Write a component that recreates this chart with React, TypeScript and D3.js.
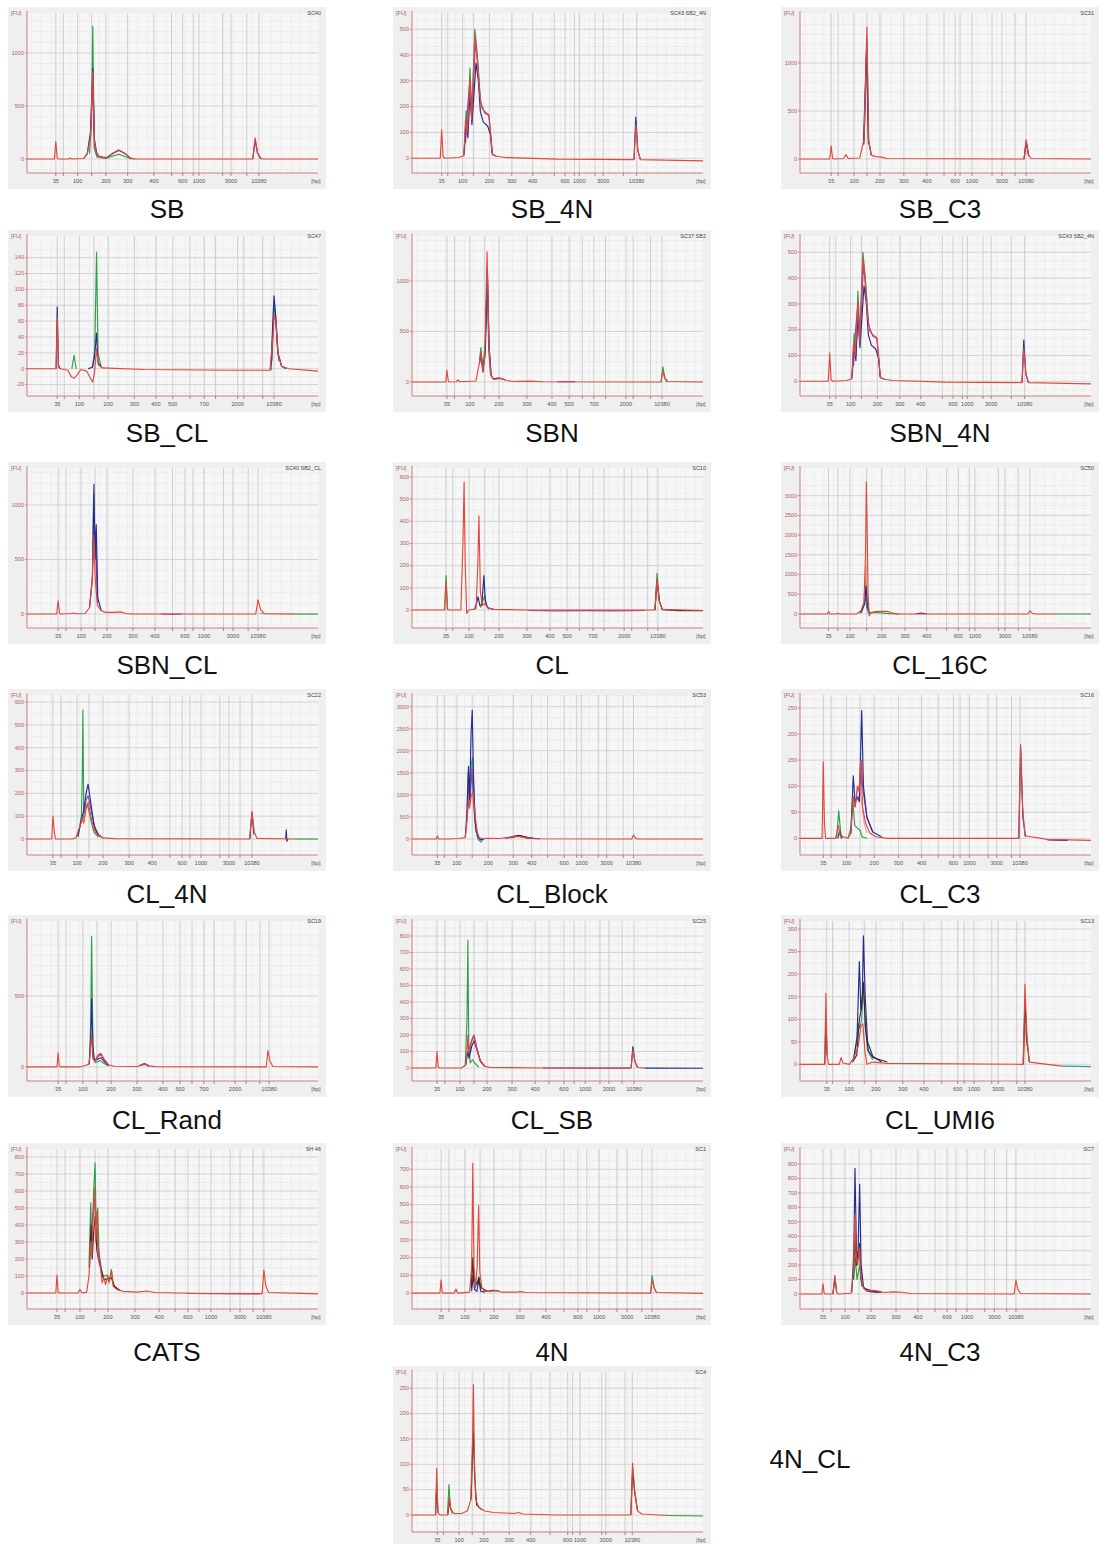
import React from "react";
import * as d3 from "d3";

// ---------- ladder tick labels ----------
const LADDER_A = ["35", "100", "200", "300", "400", "600", "1000", "3000", "10380"];
const LADDER_B = ["35", "100", "200", "300", "400", "500", "700", "2000", "10380"];

// ---------- panel labels & ids ----------
const LABELS = ["SB", "SB_4N", "SB_C3", "SB_CL", "SBN", "SBN_4N", "SBN_CL", "CL", "CL_16C", "CL_4N", "CL_Block", "CL_C3", "CL_Rand", "CL_SB", "CL_UMI6", "CATS", "4N", "4N_C3", "4N_CL"];
const IDS = ["SC40", "SC43 SB2_4N", "SC31", "SC47", "SC37 SB2", "SC43 SB2_4N", "SC40 SB2_CL", "SC10", "SC50", "SC22", "SC53", "SC16", "SC19", "SC25", "SC13", "SH 46", "SC1", "SC7", "SC4"];

// ---------- per-panel data (x in % of migration window, y in FU) ----------
// SB
const SB_X = [9.9, 17.4, 27.1, 34.6, 43.6, 53.5, 59.1, 70.1, 79.7];
const SB_XM = [12.5, 22.2, 49.7, 57.1, 67.2, 75.5];
const SB_YT = [0, 500, 1000];
const SB_Y = [-132, 1377];
const SB_T = {
  green: [[21.5, 50, 22.2, 400, 22.6, 1254, 23.1, 100, 24, 20, 27, 5, 31.5, 45, 36, 0]],
  purple: [[21.8, 200, 22.6, 700, 23.2, 120, 24.5, 25]],
  navy: [[19.5, 5, 20.7, 50, 21.8, 250, 22.6, 850, 23.2, 180, 24, 45, 25, 22, 27.3, 12, 29.5, 55, 31.5, 85, 33.5, 55, 35.5, 10, 37, 0], [77.6, 0, 78.4, 180, 79.2, 55, 80.5, 0]],
  red: [[0, 0, 9.4, 0, 9.9, 165, 10.4, 5, 11, 0, 14.2, 0, 14.8, 10, 15.4, 0, 19.5, 5, 20.7, 45, 21.8, 200, 22.6, 820, 23.2, 150, 24, 40, 25, 20, 27.3, 10, 29.5, 50, 31.5, 80, 33.5, 55, 35.5, 10, 37, 0, 77.6, 0, 78.4, 200, 79.2, 60, 80, 10, 81, 0, 100, 0]],
};

// SB_4N (same sample reused for SBN_4N)
const SB4N_X = [10.2, 17.4, 26.6, 34.3, 41.5, 52.6, 57.5, 65.7, 77.2];
const SB4N_XM = [12.3, 21.1, 48.9, 55.8, 62.9, 72.6];
const SB4N_YT = [0, 100, 200, 300, 400, 500];
const SB4N_Y = [-57, 563];
const SB4N_T = {
  green: [[18, 20, 18.6, 185, 19.2, 100, 19.9, 350, 20.6, 180, 21.6, 500, 22.3, 420, 23.5, 230]],
  purple: [[18.4, 60, 19.1, 200, 19.9, 300, 20.6, 160, 21.8, 450, 22.5, 380, 23.5, 220, 25, 175, 26.5, 165, 27.5, 20]],
  navy: [[17.8, 10, 18.6, 140, 19.2, 80, 19.9, 250, 20.6, 130, 22, 370, 22.8, 300, 23.5, 180, 24.5, 140, 26, 125, 27, 90, 27.6, 15, 29, 8], [76.3, -5, 76.9, 160, 77.6, 30, 78.5, -5]],
  red: [[0, 0, 9.7, 0, 10.2, 110, 10.7, 5, 11.3, 0, 16, 3, 17.8, 10, 18.4, 150, 19, 100, 19.9, 310, 20.5, 150, 21.6, 480, 22.3, 400, 23.2, 250, 24, 195, 25, 180, 26.3, 170, 27, 100, 27.6, 15, 29, 8, 32, 3, 50, -3, 76.3, -5, 76.9, 130, 77.6, 30, 78.5, -5, 100, -10]],
};

// SB_C3
const SBC3_X = [10.7, 18.6, 27.5, 35.7, 43.6, 53.3, 59.1, 69.4, 77.7];
const SBC3_XM = [13.1, 23.0, 49.5, 55.0, 66.0, 73.9];
const SBC3_YT = [0, 500, 1000];
const SBC3_Y = [-146, 1521];
const SBC3_T = {
  green: [[22, 180, 22.9, 1100, 23.5, 150]],
  purple: [[22, 150, 23, 1250, 23.6, 180], [77, 0, 77.7, 190, 78.6, 30]],
  navy: [[21.8, 150, 22.9, 1200, 23.5, 200, 24.5, 40], [77, 0, 77.8, 170, 78.6, 30]],
  red: [[0, 0, 10.2, 0, 10.7, 135, 11.2, 5, 11.8, 0, 15, 5, 15.8, 45, 16.6, 5, 20.5, 10, 22, 200, 23, 1375, 23.6, 200, 24.5, 40, 26, 25, 28, 20, 30, 5, 77, 0, 77.7, 200, 78.5, 40, 79.5, 5, 100, 0]],
};

// SB_CL
const SBCL_X = [10.4, 18, 27.9, 36.9, 44.3, 50.1, 60.9, 72.4, 84.9];
const SBCL_XM = [12.8, 23, 56, 64.8, 74.5, 81];
const SBCL_YT = [-20, 0, 20, 40, 60, 80, 100, 120, 140];
const SBCL_Y = [-34.4, 167.3];
const SBCL_T = {
  green: [[15.4, 0, 16.2, 17, 16.9, 0], [22.5, 2, 23.3, 25, 23.9, 147, 24.4, 20, 25.5, 2], [84.2, 10, 84.9, 85, 85.6, 55, 86.5, 10]],
  purple: [[84, 5, 84.6, 60, 85.4, 65, 86.2, 20, 87.5, 3]],
  navy: [[10, 0, 10.4, 78, 10.8, 5, 11.3, 0], [21, 0, 22.5, 2, 23.2, 15, 23.9, 45, 24.4, 8, 25.5, 2], [83.8, -2, 84.6, 70, 84.9, 92, 85.5, 65, 86.2, 20, 87.5, 3, 89, 0]],
  red: [[0, 0, 10, 0, 10.4, 65, 10.8, 2, 11.5, 0, 14, -2, 15.2, -10, 16.2, -12, 17.2, -8, 18.5, -1, 20.5, -3, 21.8, -12, 22.6, -17, 23.2, -5, 23.9, 25, 24.5, 5, 26, 1, 40, -1, 70, -2, 83.5, -2, 84.5, 40, 84.9, 68, 85.6, 60, 86.2, 20, 87.5, 3, 90, 0, 100, -3]],
};

// SBN
const SBN_X = [12.0, 19.9, 29.9, 39.5, 48.1, 54.0, 62.5, 73.5, 85.9];
const SBN_XM = [14.6, 25, 58.5, 66.5, 76, 82];
const SBN_YT = [0, 500, 1000];
const SBN_Y = [-139, 1446];
const SBN_T = {
  green: [[23.2, 220, 23.7, 340, 24.3, 110, 25.2, 400, 25.8, 1000, 26.4, 300, 27, 70], [85.6, 0, 86.2, 150, 86.9, 40, 88, 0]],
  purple: [[25.3, 500, 25.9, 1100, 26.5, 330, 27.2, 60], [50, 2, 52, 5, 56, 3]],
  navy: [[23.2, 180, 23.8, 280, 24.4, 100, 25.2, 300, 25.9, 1100, 26.5, 350, 27.2, 60, 28, 30, 30, 40, 32, 20]],
  red: [[0, 0, 11.6, 0, 12, 115, 12.5, 5, 13, 0, 15.2, 2, 15.8, 20, 16.4, 2, 22, 10, 23.2, 200, 23.7, 300, 24.3, 100, 25, 250, 25.8, 1290, 26.4, 400, 27, 80, 28, 25, 29.5, 30, 31, 35, 32.5, 15, 35, 5, 40, 8, 45, 2, 85.6, 0, 86.2, 110, 86.8, 40, 87.5, 5, 100, 0]],
};

// SBN_CL
const SBNCL_X = [10.7, 18.6, 27.5, 36.4, 44, 54.3, 60.8, 70.8, 79.4];
const SBNCL_XM = [13.4, 23.4, 50, 57, 67.5, 76];
const SBNCL_YT = [0, 500, 1000];
const SBNCL_Y = [-128, 1339];
const SBNCL_T = {
  green: [[22.5, 400, 22.9, 1100, 23.3, 700, 23.7, 750, 24.2, 120], [92, 0, 100, 0]],
  purple: [[22.7, 500, 23.1, 800, 23.6, 600, 24.3, 100], [46, 0, 50, -3, 53, 0]],
  navy: [[21.5, 60, 22.5, 350, 23, 1190, 23.4, 500, 23.8, 820, 24.3, 150, 25.5, 30]],
  red: [[0, 0, 10.2, 0, 10.7, 120, 11.2, 5, 11.8, 0, 15, 5, 16, 10, 17, 3, 20, 5, 21.5, 60, 22.4, 300, 22.9, 720, 23.5, 300, 24.2, 80, 25.5, 30, 27, 15, 30, 15, 32, 20, 34, 5, 36, 2, 78.6, 0, 79.4, 130, 80.3, 40, 81.5, 3, 92, 0]],
  tan: [[80, 5, 92, 0]],
};

// CL
const CL_X = [11.7, 19.6, 29.9, 39.5, 47.4, 53.3, 62.2, 72.9, 84.5];
const CL_XM = [14, 25, 57.5, 66, 75.5, 81];
const CL_YT = [0, 100, 200, 300, 400, 500, 600];
const CL_Y = [-81, 640];
const CL_T = {
  green: [[11.2, 0, 11.7, 155, 12.2, 3], [23.5, 10, 24.3, 40, 25, 65, 25.6, 20, 26.5, 3], [83.5, 0, 84.2, 165, 85, 40, 86, 3]],
  purple: [[40, -2, 50, -4, 60, -3, 70, -4, 80, -2]],
  navy: [[21.5, 5, 22.2, 30, 22.7, 60, 23.3, 20, 24, 25, 24.7, 155, 25.2, 40, 26, 10, 28, 3]],
  dark: [[83.5, 0, 84.2, 130, 85, 40, 86, 2], [86, 2, 92, -3, 100, -3]],
  red: [[0, 0, 11.2, 0, 11.7, 130, 12.2, 3, 13, 0, 16.8, 0, 17.5, 300, 17.9, 575, 18.3, 200, 18.8, -15, 19.5, 0, 22, 5, 22.6, 200, 23, 425, 23.5, 80, 24.2, 20, 25, 30, 26, 10, 28, 3, 40, 0, 83.5, 0, 84.2, 140, 85, 40, 86, 3, 100, -2]],
};

// CL_16C
const CL16_X = [9.8, 17.2, 28.1, 36.1, 43.5, 54.4, 60.1, 70.4, 79];
const CL16_XM = [13, 22.9, 50.4, 58.2, 68.2, 75];
const CL16_YT = [0, 500, 1000, 1500, 2000, 2500, 3000];
const CL16_Y = [-355, 3702];
const CL16_T = {
  green: [[20.5, 10, 22, 250, 22.6, 900, 23.1, 200, 23.8, 30, 25, 40, 28, 30, 31, 10, 34, 0], [88, 0, 100, 0]],
  teal: [[21, 20, 22.5, 400, 23, 150, 23.6, 10]],
  tan: [[22, 400, 22.7, 1250, 23.1, 300, 23.6, 20]],
  navy: [[21, 30, 22.2, 250, 22.7, 700, 23.2, 150, 24, 10], [40, 5, 41.5, 25, 43.5, 5]],
  red: [[0, 0, 9.4, 0, 9.8, 70, 10.3, 0, 12.5, 0, 13, 20, 13.5, 0, 19.5, 5, 21, 80, 22, 300, 22.5, 1500, 22.8, 3350, 23.1, 2100, 23.4, 500, 23.8, -50, 24.3, 30, 26, 60, 28, 65, 30, 70, 31.5, 30, 33, 5, 78.3, 0, 79, 80, 79.8, 20, 80.8, 0, 88, 0]],
};

// CL_4N
const CL4N_X = [8.9, 17.2, 26.1, 35.1, 43, 53.3, 59.8, 69.4, 77.3];
const CL4N_XM = [11.7, 21.3, 49.1, 56, 66.3, 73.2];
const CL4N_YT = [0, 100, 200, 300, 400, 500, 600];
const CL4N_Y = [-70, 631];
const CL4N_T = {
  green: [[17.5, 10, 18.7, 100, 19, 290, 19.2, 565, 19.5, 120, 20.3, 150, 21, 140, 22, 80, 23, 30, 24.5, 8], [92, 0, 100, 0]],
  purple: [[18.5, 70, 19.5, 100, 20.3, 170, 21, 190, 22, 130, 23.5, 40, 25, 10]],
  navy: [[17.5, 10, 18.8, 90, 19.4, 120, 20.3, 200, 21, 240, 21.8, 170, 23, 60, 24.5, 20, 26, 5], [76.6, 0, 77.3, 115, 78, 20], [88.9, 0, 89.1, 40, 89.3, -10, 89.6, 0]],
  red: [[0, 0, 8.5, 0, 8.9, 100, 9.4, 30, 9.8, 0, 15.5, 0, 16.8, 5, 18.3, 60, 19, 90, 19.5, 70, 20.3, 130, 21, 160, 21.8, 110, 22.8, 50, 24, 20, 26, 5, 30, 2, 76.5, 0, 77.3, 120, 78.1, 30, 79, 3, 92, 0]],
};

// CL_Block
const CLB_X = [8.7, 15.4, 26.2, 34.8, 41.1, 52.3, 58.3, 66.9, 76.1];
const CLB_XM = [11.1, 20.7, 46.6, 56.6, 64, 72.6];
const CLB_YT = [0, 500, 1000, 1500, 2000, 2500, 3000];
const CLB_Y = [-363, 3265];
const CLB_T = {
  teal: [[18.8, 400, 19.3, 1500, 19.8, 800, 20.4, 1700, 20.8, 1850, 21.3, 900, 22, 200, 22.8, -20, 23.7, -70, 24.5, 0]],
  purple: [[19, 500, 19.5, 1300, 20, 900, 20.6, 1600, 21.1, 800, 22, 150], [33, 20, 36.5, 70, 40, 15]],
  dark: [[34, 30, 37, 80, 40, 30, 42, 10]],
  navy: [[18.3, 30, 18.9, 600, 19.4, 1650, 19.8, 900, 20.3, 2400, 20.7, 2920, 21.1, 1500, 21.7, 400, 22.5, 60, 23.5, -20, 25, 10], [32, 20, 36.5, 85, 40, 20, 44, 5]],
  red: [[0, 0, 8.3, 0, 8.7, 70, 9.1, 0, 12, 0, 16, 10, 18.3, 30, 18.9, 400, 19.4, 900, 19.8, 700, 20.4, 1000, 21, 1050, 21.6, 600, 22.3, 200, 23, 40, 24, 10, 26, 15, 30, 10, 33, 30, 36.5, 60, 39, 30, 41, 10, 44, 5, 75.5, 0, 76.1, 90, 76.8, 20, 77.5, 0, 100, 0]],
};

// CL_C3
const CLC3_X = [8, 16, 25.5, 33.8, 41.8, 52.7, 58.2, 67.6, 75.6];
const CLC3_XM = [10.7, 20.6, 47.5, 55, 64.7, 72.7];
const CLC3_YT = [0, 50, 100, 150, 200, 250];
const CLC3_Y = [-32, 275];
const CLC3_T = {
  green: [[12.6, 0, 13.3, 53, 14, 10, 14.6, 0], [16.5, 0, 17.5, 20, 18.1, 75, 18.8, 25, 19.6, 20, 20.7, 15, 21.3, 3, 23, 0]],
  pink: [[19.2, 70, 19.9, 100, 20.6, 90, 21.2, 70, 22, 30, 23, 10]],
  purple: [[18.5, 60, 19.5, 75, 20.4, 80, 21, 150, 21.6, 95, 23, 40, 25, 12]],
  navy: [[13, 0, 13.6, 15, 14.2, 0], [17.5, 10, 18.3, 120, 18.9, 70, 19.6, 80, 20.4, 70, 21.2, 245, 21.8, 100, 23, 40, 25, 12, 28, 3], [75.2, 0, 75.8, 175, 76.6, 40, 77.5, 3], [85, -3, 92, -4]],
  red: [[0, 0, 7.6, 0, 8, 147, 8.4, 30, 8.8, 0, 12.2, 0, 13.2, 25, 13.8, 5, 16.5, 0, 17.5, 10, 18.3, 80, 19, 60, 19.7, 100, 20.3, 90, 20.9, 150, 21.5, 60, 22.5, 30, 24, 10, 26, 3, 30, 0, 75.2, 0, 75.8, 180, 76.5, 60, 77.3, 5, 85, -2, 100, -4]],
};

// CL_Rand
const CLR_X = [10.7, 19.2, 28.9, 37.8, 46.7, 52.6, 60.8, 71.5, 83.2];
const CLR_XM = [13.4, 24, 56.7, 64.3, 75.3, 80];
const CLR_YT = [0, 500];
const CLR_Y = [-99, 1028];
const CLR_T = {
  green: [[21.4, 20, 21.9, 300, 22.2, 920, 22.5, 400, 22.8, 60, 23.5, 30, 25, 45, 26.5, 25, 28, 8]],
  purple: [[23.5, 50, 24.5, 85, 25.4, 95, 26.5, 55, 28, 15], [39, 10, 40.5, 20, 42, 5]],
  navy: [[21.4, 20, 21.9, 200, 22.2, 480, 22.6, 150, 23.2, 40, 24.2, 55, 25.4, 65, 26.5, 40, 28, 10], [39, 10, 40.3, 25, 42, 5]],
  red: [[0, 0, 10.3, 0, 10.7, 100, 11.1, 5, 11.6, 0, 18, 0, 20, 10, 21.3, 20, 21.8, 120, 22.2, 230, 22.6, 60, 23.3, 40, 24.3, 70, 25.4, 90, 26.5, 50, 28, 15, 30, 5, 38, 3, 39.5, 18, 40.5, 22, 42, 8, 44, 2, 82.2, 0, 82.8, 115, 83.5, 40, 84.5, 3, 100, 0]],
};

// CL_SB
const CLSB_X = [8.6, 16.5, 25.8, 34.4, 42.3, 52.2, 59.5, 67.7, 76.3];
const CLSB_XM = [11.3, 21.3, 47.1, 55.7, 64.6, 72.2];
const CLSB_YT = [0, 100, 200, 300, 400, 500, 600, 700, 800];
const CLSB_Y = [-79, 891];
const CLSB_T = {
  green: [[18.3, 10, 18.9, 300, 19.2, 775, 19.5, 150, 20, 30, 20.8, 50, 21.5, 30, 23, 5]],
  purple: [[19.7, 80, 20.5, 170, 21.3, 200, 22.3, 120, 23.5, 45, 25, 10], [45, 0, 60, -1, 75, -1]],
  navy: [[18.5, 20, 19.2, 100, 19.6, 60, 20.5, 130, 21.3, 165, 22.3, 110, 23.5, 40, 25, 10], [75.3, 0, 75.9, 130, 76.6, 40, 77.5, 3], [80, -1, 100, -2]],
  red: [[0, 0, 8.2, 0, 8.6, 100, 9, 5, 9.5, 0, 17, 0, 18.5, 20, 19, 120, 19.2, 200, 19.5, 100, 20.2, 150, 21.2, 190, 22.5, 100, 23.5, 40, 25, 10, 27, 3, 45, 0, 75.3, 0, 75.9, 110, 76.6, 40, 77.5, 3, 80, -1]],
};

// CL_UMI6
const CLU_X = [9.2, 16.9, 26.1, 35.3, 42.6, 54.2, 59.8, 68.1, 77.3];
const CLU_XM = [11.2, 22.1, 48.7, 56.4, 65.9, 74.5];
const CLU_YT = [0, 50, 100, 150, 200, 250, 300];
const CLU_Y = [-37, 318];
const CLU_T = {
  teal: [[18.5, 15, 19.5, 50, 20, 90, 20.5, 80, 21.2, 100, 21.8, 183, 22.4, 90, 23.2, 30, 25, 10], [90, -4, 100, -5]],
  navy: [[18.5, 15, 19.6, 60, 20.4, 228, 20.9, 120, 21.4, 150, 21.8, 285, 22.4, 150, 23.2, 50, 25, 18, 28, 5]],
  dark: [[8.5, 0, 8.9, 100, 9.3, 20], [18, 5, 19.5, 20, 20.4, 100, 21, 120, 21.8, 180, 22.5, 80, 23.5, 30, 25, 15, 30, 5], [76.7, 0, 77.3, 135, 78, 50, 78.8, 5]],
  tan: [[76.8, 0, 77.3, 85, 78, 40]],
  red: [[0, 0, 8.5, 0, 8.9, 157, 9.3, 20, 9.8, 0, 13.5, 0, 14.1, 15, 14.7, 3, 17, 0, 18.5, 15, 20, 40, 21, 85, 21.6, 90, 22.3, 30, 23, 0, 25, 5, 30, 2, 76.7, 0, 77.3, 178, 78, 60, 78.8, 5, 90, -4]],
};

// CATS
const CATS_X = [10.3, 18.2, 27.8, 37.1, 45.4, 55.3, 63.2, 73.2, 81.4];
const CATS_XM = [13.1, 23.4, 50.9, 59.1, 69.8, 77.7];
const CATS_YT = [0, 100, 200, 300, 400, 500, 600, 700, 800];
const CATS_Y = [-94, 847];
const CATS_T = {
  green: [[21.3, 150, 21.9, 530, 22.3, 300, 22.9, 600, 23.4, 765, 23.8, 350, 24.3, 500, 24.8, 200, 25.5, 120, 26.4, 100, 27.6, 105, 28.4, 80, 29, 140, 29.7, 50, 31, 20]],
  purple: [[22, 350, 23.3, 550, 24.2, 300, 26, 90], [55, -3, 80, -5]],
  dark: [[21.5, 150, 22, 400, 22.4, 200, 23, 380, 23.4, 450, 24, 250, 24.8, 180, 25.5, 140, 26.4, 80, 27.6, 80, 29, 90, 30, 40, 32, 15]],
  red: [[0, 0, 9.9, 0, 10.3, 105, 10.7, 5, 11.2, 0, 17.5, 0, 18.2, 20, 18.9, 0, 20.5, 5, 21.3, 100, 21.9, 300, 22.3, 220, 22.7, 450, 23.2, 620, 23.6, 300, 24, 480, 24.5, 200, 25.3, 150, 25.8, 60, 26.4, 90, 27, 50, 27.6, 95, 28.2, 60, 29, 130, 29.6, 40, 31, 20, 33, 10, 38, 5, 41, 12, 44, 3, 60, -3, 80.8, -4, 81.4, 135, 82.1, 40, 83, 3, 100, -5]],
};

// 4N
const N4_X = [10, 18.2, 28.2, 37.1, 46, 57, 64.3, 73.9, 82.5];
const N4_XM = [12.7, 23.4, 52.2, 60.1, 70.4, 79];
const N4_YT = [0, 100, 200, 300, 400, 500, 600, 700];
const N4_Y = [-90, 814];
const N4_T = {
  tan: [[14.5, 0, 15.1, 25, 15.7, 0]],
  green: [[20.3, 20, 20.8, 190, 21.2, 100, 22, 40, 22.9, 90, 23.5, 40, 25, 10], [82, 0, 82.5, 100, 83.2, 30, 84, 3]],
  navy: [[20.5, 10, 21, 100, 21.5, 20, 22.3, 10, 23, 75, 23.6, 10, 25, 5]],
  dark: [[20.4, 30, 20.9, 200, 21.3, 80, 22.5, 50, 23, 90, 23.6, 30, 26, 10, 28, 15, 30, 10]],
  red: [[0, 0, 9.6, 0, 10, 75, 10.4, 5, 10.9, 0, 14.5, 0, 15.1, 20, 15.7, 0, 19.8, 5, 20.5, 150, 20.9, 735, 21.3, 150, 21.8, 30, 22.4, 150, 22.9, 495, 23.3, 120, 24, 30, 25, 10, 27, 10, 29, 15, 31, 5, 36, 5, 37.5, 8, 39, 3, 82, 0, 82.5, 75, 83.2, 30, 84, 3, 100, -2]],
};

// 4N_C3
const N4C3_X = [7.9, 15.5, 24.4, 33, 40.5, 50.5, 57.4, 66.8, 74.2];
const N4C3_XM = [10.7, 20.3, 46.4, 53.6, 63.5, 71];
const N4C3_YT = [0, 100, 200, 300, 400, 500, 600, 700, 800, 900];
const N4C3_Y = [-104, 1004];
const N4C3_T = {
  green: [[18.5, 100, 19, 250, 19.6, 100, 20.5, 200, 21.2, 50]],
  dark: [[11.3, 0, 12, 110, 12.6, 10], [18.3, 100, 18.9, 400, 19.4, 200, 20.5, 350, 21, 100, 22, 40, 25, 20, 28, 10]],
  navy: [[17.8, 10, 18.5, 300, 18.9, 870, 19.4, 300, 19.9, 250, 20.5, 760, 21, 200, 21.8, 50, 23, 20, 25, 15, 27, 10]],
  red: [[0, 0, 7.5, 0, 7.9, 70, 8.3, 5, 8.8, 0, 11.3, 0, 12, 130, 12.6, 10, 13.2, 0, 17.5, 5, 18.4, 150, 18.9, 550, 19.3, 250, 19.8, 200, 20.4, 320, 20.9, 120, 21.8, 40, 23, 20, 25, 25, 27, 20, 29, 10, 32, 15, 35, 12, 38, 3, 73.6, 0, 74.2, 95, 74.9, 30, 75.8, 3, 100, 0]],
};

// 4N_CL
const N4CL_X = [8.7, 16.2, 24.7, 33.4, 40.8, 53.5, 57.7, 66.6, 75.7];
const N4CL_XM = [10.8, 20.7, 47.4, 55.2, 65.2, 73.2];
const N4CL_YT = [0, 50, 100, 150, 200, 250];
const N4CL_Y = [-33.5, 282];
const N4CL_T = {
  green: [[12.2, 0, 12.7, 60, 13.2, 15, 13.8, 3], [88, -1, 100, -2]],
  dark: [[8.1, 0, 8.5, 60, 8.9, 5], [12.3, 0, 12.8, 30, 13.3, 10], [20.3, 30, 20.8, 120, 21.1, 165, 21.5, 80, 22.2, 20, 24, 10], [75.2, 0, 75.8, 90, 76.5, 45, 77.5, 8]],
  red: [[0, 0, 8.1, 0, 8.5, 92, 8.9, 5, 9.6, 0, 12.2, 0, 12.8, 35, 13.4, 10, 14.5, 3, 17, 3, 19, 8, 20.2, 30, 20.8, 150, 21.1, 257, 21.4, 120, 21.9, 30, 23, 15, 25, 8, 28, 5, 35, 3, 36.5, 5, 38, 2, 50, 0, 75.2, 0, 75.8, 102, 76.5, 50, 77.5, 8, 79, 2, 88, -1]],
};

// ---------- table built from the arrays ----------
const PANELS = [
  { ladder: LADDER_A, x: SB_X, xm: SB_XM, yt: SB_YT, y: SB_Y, t: SB_T },
  { ladder: LADDER_A, x: SB4N_X, xm: SB4N_XM, yt: SB4N_YT, y: SB4N_Y, t: SB4N_T },
  { ladder: LADDER_A, x: SBC3_X, xm: SBC3_XM, yt: SBC3_YT, y: SBC3_Y, t: SBC3_T },
  { ladder: LADDER_B, x: SBCL_X, xm: SBCL_XM, yt: SBCL_YT, y: SBCL_Y, t: SBCL_T },
  { ladder: LADDER_B, x: SBN_X, xm: SBN_XM, yt: SBN_YT, y: SBN_Y, t: SBN_T },
  { ladder: LADDER_A, x: SB4N_X, xm: SB4N_XM, yt: SB4N_YT, y: SB4N_Y, t: SB4N_T },
  { ladder: LADDER_A, x: SBNCL_X, xm: SBNCL_XM, yt: SBNCL_YT, y: SBNCL_Y, t: SBNCL_T },
  { ladder: LADDER_B, x: CL_X, xm: CL_XM, yt: CL_YT, y: CL_Y, t: CL_T },
  { ladder: LADDER_A, x: CL16_X, xm: CL16_XM, yt: CL16_YT, y: CL16_Y, t: CL16_T },
  { ladder: LADDER_A, x: CL4N_X, xm: CL4N_XM, yt: CL4N_YT, y: CL4N_Y, t: CL4N_T },
  { ladder: LADDER_A, x: CLB_X, xm: CLB_XM, yt: CLB_YT, y: CLB_Y, t: CLB_T },
  { ladder: LADDER_A, x: CLC3_X, xm: CLC3_XM, yt: CLC3_YT, y: CLC3_Y, t: CLC3_T },
  { ladder: LADDER_B, x: CLR_X, xm: CLR_XM, yt: CLR_YT, y: CLR_Y, t: CLR_T },
  { ladder: LADDER_A, x: CLSB_X, xm: CLSB_XM, yt: CLSB_YT, y: CLSB_Y, t: CLSB_T },
  { ladder: LADDER_A, x: CLU_X, xm: CLU_XM, yt: CLU_YT, y: CLU_Y, t: CLU_T },
  { ladder: LADDER_A, x: CATS_X, xm: CATS_XM, yt: CATS_YT, y: CATS_Y, t: CATS_T },
  { ladder: LADDER_A, x: N4_X, xm: N4_XM, yt: N4_YT, y: N4_Y, t: N4_T },
  { ladder: LADDER_A, x: N4C3_X, xm: N4C3_XM, yt: N4C3_YT, y: N4C3_Y, t: N4C3_T },
  { ladder: LADDER_A, x: N4CL_X, xm: N4CL_XM, yt: N4CL_YT, y: N4CL_Y, t: N4CL_T },
];

// ---------- layout & style ----------
const COL_X = [8, 393, 781];
const ROW_Y = [7, 230, 462, 689, 915, 1143, 1366];
const LABEL_BASE = [218, 442, 674, 903, 1129, 1361];
const PW = 318;
const PH = 182;
const COLORS: Record<string, string> = {
  green: "#2f9e48",
  teal: "#2a9c8c",
  tan: "#d9a070",
  pink: "#eaa2a8",
  purple: "#9a3fa2",
  navy: "#272b8e",
  dark: "#3a2a22",
  red: "#e04a3e",
};
const DRAW_ORDER = ["green", "teal", "tan", "pink", "purple", "navy", "dark", "red"];
const FONT = "'Liberation Sans', Arial, sans-serif";

function toPairs(flat: number[]): [number, number][] {
  const out: [number, number][] = [];
  for (let i = 0; i < flat.length; i += 2) out.push([flat[i], flat[i + 1]]);
  return out;
}

function Panel({ p, i, x0, y0 }: any) {
  const L = x0 + 19, R = x0 + 310, T = y0 + 6, B = y0 + 166;
  const xs = d3.scaleLinear().domain([0, 100]).range([L, R]);
  const ys = d3.scaleLinear().domain(p.y).range([B, T]).clamp(true);
  const line = d3.line<[number, number]>().x((d) => xs(d[0])).y((d) => ys(d[1]));
  const step = p.yt.length > 1 ? p.yt[1] - p.yt[0] : 100;
  const stepPx = Math.abs(ys(0) - ys(step));
  const nSub = Math.max(1, Math.round(stepPx / 10));
  const sub = step / nSub;
  const minorY = d3.range(Math.ceil(p.y[0] / sub) * sub, p.y[1], sub).filter((v) => Math.abs(v / step - Math.round(v / step)) > 1e-6);
  const minorX = d3.range(1.6, 100, 3.3);
  const allX = [...p.x, ...p.xm];
  return (
    <g>
      <rect x={x0} y={y0} width={PW} height={PH} fill="#efefef" />
      <rect x={L} y={T} width={R - L} height={B - T} fill="#f6f6f6" />
      {minorX.map((v, k) => (
        <line key={"mx" + k} x1={xs(v)} x2={xs(v)} y1={T} y2={B} stroke="#d2d2d2" strokeWidth={0.6} strokeDasharray="1,1.5" />
      ))}
      {minorY.map((v, k) => (
        <line key={"my" + k} x1={L} x2={R} y1={ys(v)} y2={ys(v)} stroke="#d2d2d2" strokeWidth={0.6} strokeDasharray="1,1.5" />
      ))}
      {allX.map((v, k) => (
        <line key={"gx" + k} x1={xs(v)} x2={xs(v)} y1={T} y2={B} stroke="#c4c4c4" strokeWidth={0.8} />
      ))}
      {p.yt.map((v, k) => (
        <line key={"gy" + k} x1={L} x2={R} y1={ys(v)} y2={ys(v)} stroke="#cbcbcb" strokeWidth={0.8} />
      ))}
      {DRAW_ORDER.filter((c) => p.t[c]).map((c) =>
        p.t[c].map((seg: number[], k: number) => (
          <path key={c + k} d={line(toPairs(seg)) || ""} fill="none" stroke={COLORS[c]} strokeWidth={1.15} strokeLinejoin="round" />
        ))
      )}
      <line x1={L} x2={L} y1={T - 2} y2={B} stroke="#d07a7a" strokeWidth={1} />
      <line x1={L} x2={R} y1={B} y2={B} stroke="#c98080" strokeWidth={1} />
      {p.yt.map((v, k) => (
        <g key={"yt" + k}>
          <line x1={L - 2} x2={L} y1={ys(v)} y2={ys(v)} stroke="#c07070" strokeWidth={0.8} />
          <text x={L - 3} y={ys(v)} dy="0.33em" textAnchor="end" fontSize={5.5} fill="#b05a5a" fontFamily={FONT}>{v}</text>
        </g>
      ))}
      {allX.map((v, k) => (
        <line key={"xt" + k} x1={xs(v)} x2={xs(v)} y1={B} y2={B + 3} stroke="#8a7070" strokeWidth={0.8} />
      ))}
      {p.x.map((v, k) => (
        <text key={"xl" + k} x={xs(v)} y={y0 + 176} textAnchor="middle" fontSize={5.6} fill="#555" fontFamily={FONT}>{p.ladder[k]}</text>
      ))}
      <text x={x0 + 308} y={y0 + 176} textAnchor="middle" fontSize={5.6} fill="#555" fontFamily={FONT}>[bp]</text>
      <text x={x0 + 3} y={y0 + 8} fontSize={5.5} fill="#b05a5a" fontFamily={FONT}>[FU]</text>
      <text x={x0 + 313} y={y0 + 8} textAnchor="end" fontSize={5.5} fill="#444" fontFamily={FONT}>{IDS[i]}</text>
    </g>
  );
}

export default function App() {
  return (
    <svg width={1100} height={1544} style={{ position: "absolute", left: 0, top: 0, background: "#fff" }}>
      <rect x={0} y={0} width={1100} height={1544} fill="#fff" />
      {PANELS.map((p, i) => {
        const last = i === 18;
        const col = last ? 1 : i % 3;
        const row = last ? 6 : Math.floor(i / 3);
        const x0 = COL_X[col];
        const y0 = ROW_Y[row];
        return (
          <g key={i}>
            <Panel p={p} i={i} x0={x0} y0={y0} />
            {last ? (
              <text x={810} y={1468} textAnchor="middle" fontSize={26} fill="#111" fontFamily={FONT}>{LABELS[i]}</text>
            ) : (
              <text x={x0 + PW / 2} y={LABEL_BASE[row]} textAnchor="middle" fontSize={26} fill="#111" fontFamily={FONT}>{LABELS[i]}</text>
            )}
          </g>
        );
      })}
    </svg>
  );
}
